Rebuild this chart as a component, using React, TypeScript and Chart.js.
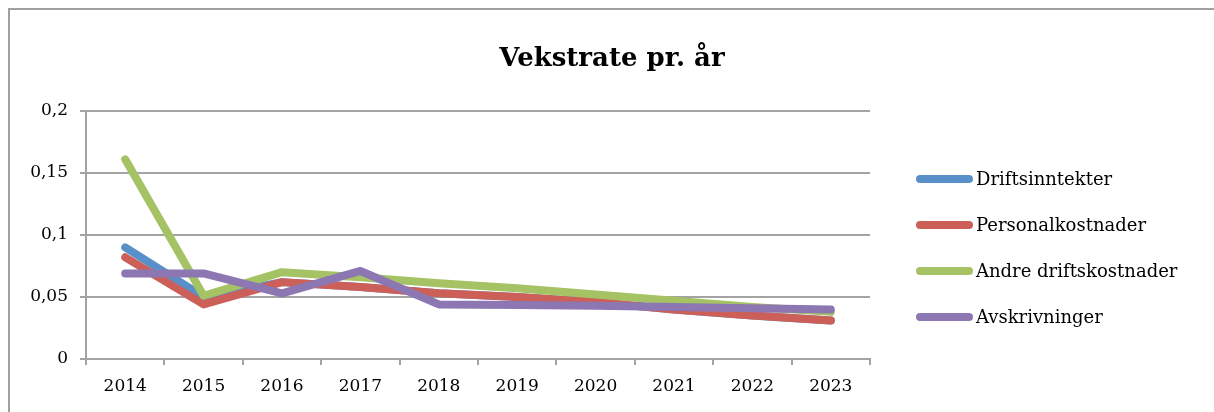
import React, { useEffect, useRef } from "react";
import { Chart, registerables } from "chart.js";

Chart.register(...registerables);

const TITLE = "Vekstrate pr. år";
const years = ["2014", "2015", "2016", "2017", "2018", "2019", "2020", "2021", "2022", "2023"];
const yTickLabels = ["0", "0,05", "0,1", "0,15", "0,2"];

const seriesNames = ["Driftsinntekter", "Personalkostnader", "Andre driftskostnader", "Avskrivninger"];
const driftsinntekter = [0.09, 0.05, 0.062, 0.058, 0.053, 0.05, 0.046, 0.04, 0.035, 0.031];
const personalkostnader = [0.082, 0.044, 0.062, 0.058, 0.053, 0.05, 0.046, 0.04, 0.035, 0.031];
const andreDriftskostnader = [0.161, 0.051, 0.07, 0.066, 0.061, 0.057, 0.052, 0.047, 0.042, 0.038];
const avskrivninger = [0.069, 0.069, 0.053, 0.071, 0.044, 0.0435, 0.043, 0.042, 0.041, 0.04];
const seriesColors = ["#5A90C9", "#CC5F58", "#A5C264", "#8D77B3"];

const FONT = "'DejaVu Serif', 'Liberation Serif', serif";
const GRID = "#a3a3a3";

const W = 1206;
const H = 404;

const borderLegendPlugin = {
  id: "borderLegend",
  afterDraw(chart: any) {
    const ctx = chart.ctx;
    ctx.save();
    ctx.strokeStyle = "#a0a0a0";
    ctx.lineWidth = 2;
    ctx.beginPath();
    ctx.moveTo(1, H);
    ctx.lineTo(1, 1);
    ctx.lineTo(W, 1);
    ctx.stroke();

    ctx.fillStyle = "#000";
    ctx.font = `bold 26px ${FONT}`;
    ctx.textAlign = "center";
    ctx.textBaseline = "middle";
    ctx.fillText(TITLE, 604, 51);

    const ds = chart.data.datasets;
    ctx.font = `18px ${FONT}`;
    ctx.textAlign = "left";
    ctx.textBaseline = "middle";
    ds.forEach((d: any, i: number) => {
      const y = 171 + i * 46;
      ctx.strokeStyle = d.borderColor;
      ctx.lineWidth = 8;
      ctx.lineCap = "round";
      ctx.beginPath();
      ctx.moveTo(912, y);
      ctx.lineTo(961, y);
      ctx.stroke();
      ctx.fillStyle = "#000";
      ctx.fillText(d.label, 968, y + 1);
    });
    ctx.restore();
  },
};

export default function App() {
  const ref = useRef<HTMLCanvasElement | null>(null);
  useEffect(() => {
    if (!ref.current) return;
    const data = [driftsinntekter, personalkostnader, andreDriftskostnader, avskrivninger];
    const chart = new Chart(ref.current, {
      type: "line",
      data: {
        labels: years,
        datasets: data.map((d, i) => ({
          label: seriesNames[i],
          data: d,
          order: data.length - i,
          borderColor: seriesColors[i],
          backgroundColor: seriesColors[i],
          borderWidth: 8,
          borderCapStyle: "round",
          borderJoinStyle: "round",
          pointRadius: 0,
          pointHoverRadius: 0,
          tension: 0,
          fill: false,
        })),
      },
      options: {
        responsive: false,
        animation: false,
        layout: { padding: { left: 0, right: 344, top: 103, bottom: 0 } },
        plugins: {
          legend: { display: false },
          tooltip: { enabled: false },
          title: { display: false },
        },
        scales: {
          x: {
            offset: true,
            grid: {
              offset: true,
              drawOnChartArea: false,
              drawTicks: true,
              tickLength: 6,
              color: GRID,
              lineWidth: 2,
            },
            border: { display: true, color: GRID, width: 2 },
            ticks: { color: "#000", font: { family: FONT, size: 17 }, padding: 11, maxRotation: 0, autoSkip: false },
            afterFit: (s: any) => {
              s.height = 53;
            },
          },
          y: {
            min: 0,
            max: 0.2,
            ticks: {
              stepSize: 0.05,
              color: "#000",
              font: { family: FONT, size: 17 },
              padding: 12,
              callback: (_v: any, i: number) => yTickLabels[i],
            },
            grid: { color: GRID, lineWidth: 2, tickLength: 6, drawTicks: true },
            border: { display: true, color: GRID, width: 2 },
            afterFit: (s: any) => {
              s.width = 78;
            },
          },
        },
      },
      plugins: [borderLegendPlugin],
    });
    return () => chart.destroy();
  }, []);
  return (
    <div style={{ position: "fixed", left: 8, top: 8, width: W, height: H }}>
      <canvas ref={ref} width={W} height={H} style={{ width: W, height: H, display: "block" }} />
    </div>
  );
}
